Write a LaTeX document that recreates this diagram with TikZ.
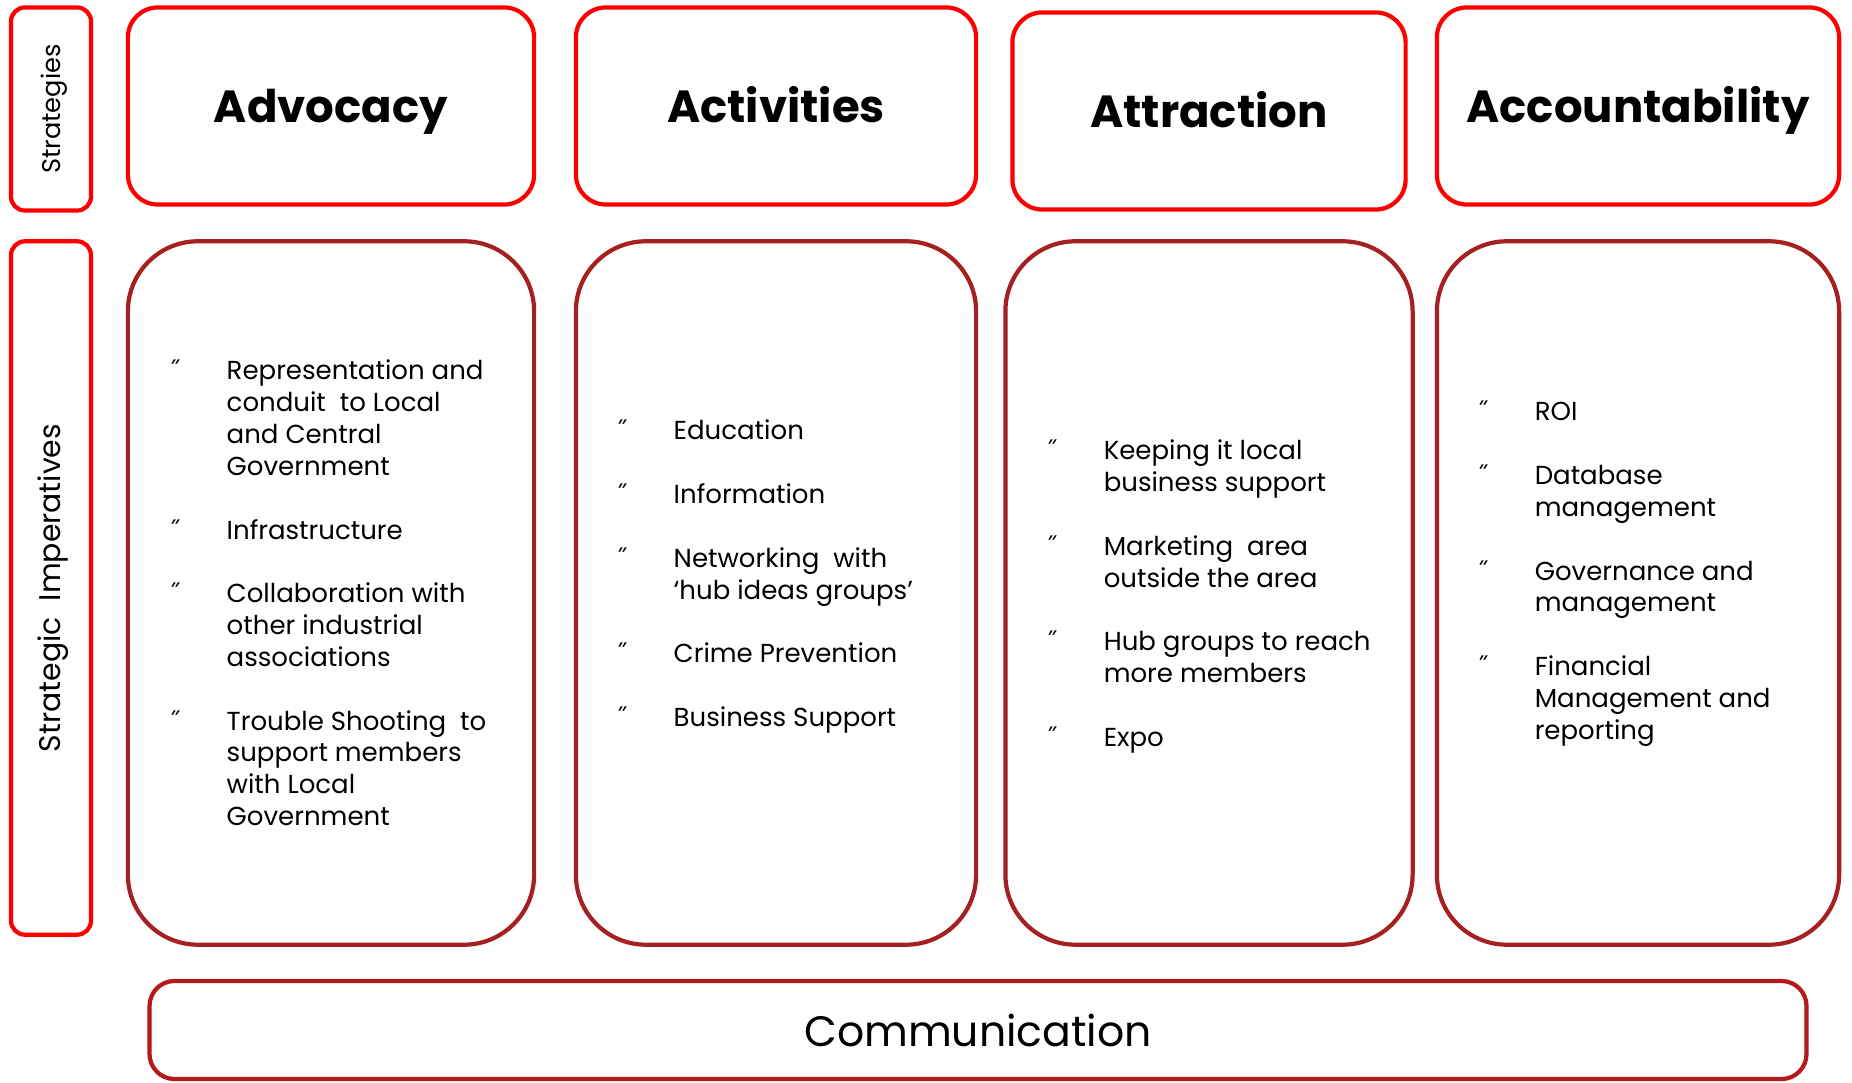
\documentclass[tikz,border=0pt]{standalone}
\usepackage{fontspec}
\setmainfont{Poppins}
\newfontfamily\markfont{DejaVu Sans}
\usetikzlibrary{positioning}

\definecolor{stratred}{RGB}{255,0,0}
\definecolor{impred}{RGB}{165,32,32}
\definecolor{commred}{RGB}{178,26,28}

% list mark and gap between list entries
\newcommand{\mk}{{\markfont\fontsize{7}{7}\selectfont ˝}}
\newlength{\entrygap}
\setlength{\entrygap}{9.05pt}

\begin{document}
\begin{tikzpicture}[x=0.01cm, y=-0.01cm,
    sidebox/.style={rectangle, rounded corners=0.14cm, draw=stratred,
                line width=1.2pt, minimum height=0.80cm, rotate=90,
                text height=1.4ex, text depth=0.4ex},
    headbox/.style={rectangle, rounded corners=0.30cm, draw=stratred,
                line width=1.2pt, minimum height=1.97cm, inner xsep=2pt,
                text height=1.85ex, text depth=0.1ex,
                font=\fontsize{12.8}{15}\selectfont\bfseries},
    impbox/.style={rectangle, rounded corners=0.70cm, draw=impred,
                line width=1.2pt, minimum height=7.03cm},
    commbox/.style={rectangle, rounded corners=0.25cm, draw=commred,
                line width=1.2pt, minimum width=16.56cm, minimum height=0.98cm,
                font=\fontsize{12.1}{15}\selectfont},
    listtext/.style={anchor=base west, inner sep=0pt,
                font=\fontsize{7.4}{9.05}\selectfont},
]
\useasboundingbox (0,0) rectangle (1852,1083);

% row labels
\node[sidebox, minimum width=2.03cm, font=\fontsize{7.3}{9}\selectfont] (strat) at (51,109) {Strategies};
\node[sidebox, minimum width=6.93cm, font=\fontsize{8.5}{10}\selectfont] (imper) at (51,588) {Strategic\ \ Imperatives};

% strategy headers
\node[headbox, minimum width=4.06cm] (advhead) at (331,106) {Advocacy};
\node[headbox, minimum width=4.00cm] (acthead) at (776,106) {Activities};
\node[headbox, minimum width=3.93cm] (attrhead) at (1209,111) {Attraction};
\node[headbox, minimum width=4.02cm] (acchead) at (1638,106) {Accountability};

% imperative panels
\node[impbox, minimum width=4.06cm] (advbody) at (331,593) {};
\node[impbox, minimum width=4.00cm] (actbody) at (776,593) {};
\node[impbox, minimum width=4.07cm] (attrbody) at (1209,593) {};
\node[impbox, minimum width=4.02cm] (accbody) at (1638,593) {};

\node[listtext] (advlist) at (168,380) {%
  \begin{tabular}[t]{@{}p{0.58cm}@{}l@{}}
  \mk & Representation and\\
      & conduit\ \ to Local\\
      & and Central\\
      & Government\\[\entrygap]
  \mk & Infrastructure\\[\entrygap]
  \mk & Collaboration with\\
      & other industrial\\
      & associations\\[\entrygap]
  \mk & Trouble Shooting\ \ to\\
      & support members\\
      & with Local\\
      & Government
  \end{tabular}};

\node[listtext] (actlist) at (615,440) {%
  \begin{tabular}[t]{@{}p{0.58cm}@{}l@{}}
  \mk & Education\\[\entrygap]
  \mk & Information\\[\entrygap]
  \mk & Networking\ \ with\\
      & ‘hub ideas groups’\\[\entrygap]
  \mk & Crime Prevention\\[\entrygap]
  \mk & Business Support
  \end{tabular}};

\node[listtext] (attrlist) at (1045,460) {%
  \begin{tabular}[t]{@{}p{0.58cm}@{}l@{}}
  \mk & Keeping it local\\
      & business support\\[\entrygap]
  \mk & Marketing\ \ area\\
      & outside the area\\[\entrygap]
  \mk & Hub groups to reach\\
      & more members\\[\entrygap]
  \mk & Expo
  \end{tabular}};

\node[listtext] (acclist) at (1476,421) {%
  \begin{tabular}[t]{@{}p{0.58cm}@{}l@{}}
  \mk & ROI\\[\entrygap]
  \mk & Database\\
      & management\\[\entrygap]
  \mk & Governance and\\
      & management\\[\entrygap]
  \mk & Financial\\
      & Management and\\
      & reporting
  \end{tabular}};

% bottom band
\node[commbox] (comm) at (978,1030) {Communication};

\end{tikzpicture}
\end{document}
